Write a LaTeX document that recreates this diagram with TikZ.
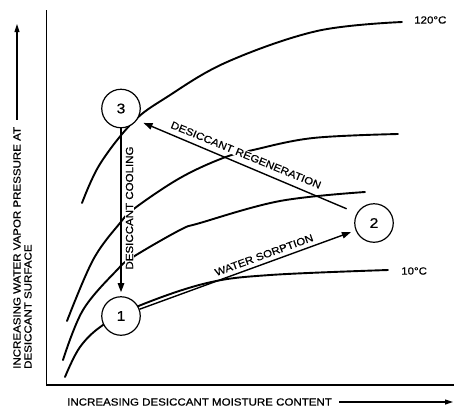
\documentclass[tikz,border=0pt]{standalone}
\usepackage{fontspec}
\setmainfont{Liberation Sans}[FakeStretch=1.12, FakeBold=0.6]
\usetikzlibrary{arrows.meta}
\begin{document}
\begin{tikzpicture}[x=1pt,y=-1pt,
  curve/.style={line width=1.9pt, line cap=round},
  axisline/.style={line width=1.2pt},
  arr/.style={line width=1.4pt, -{Triangle[length=9pt,width=6.5pt]}},
  axarr/.style={line width=1.1pt, -{Triangle[length=8pt,width=5pt]}},
  state/.style={circle, draw, line width=1.2pt, fill=white, minimum size=38.5pt, inner sep=0pt, font=\fontsize{14}{14}\selectfont},
  lab/.style={font=\fontsize{10.3}{12}\selectfont, inner sep=1pt},
]
\useasboundingbox (0,0) rectangle (454,408);
\fill[white] (0,0) rectangle (454,408);

% axes
\draw[axisline] (46.5,10) -- (46.5,385) -- (454,385);

% isotherms
\draw[curve] plot[smooth, tension=0.6] coordinates {(82,203) (100,164) (133,122) (167,97) (227,62) (317,31) (402,22)};
\draw[curve] plot[smooth, tension=0.6] coordinates {(67,321) (93,260) (120,223) (135,208) (180,178) (223,158) (253,150) (313,138) (398,134)};
\draw[curve] plot[smooth, tension=0.6] coordinates {(63,360) (83,310) (117,270) (133,257) (180,230) (200,223) (280,201) (365,192)};
\draw[curve] plot[smooth, tension=0.6] coordinates {(65,377) (80,347) (103,325) (141,305) (207,283) (270,275) (388,270)};

% states
\node[state] (n3) at (121,108.5) {3};
\node[state] (n1) at (121,316) {1};
\node[state] (n2) at (374,223) {2};

% labels
\node[lab, rotate=90, fill=white] (cool) at (129.5,208) {DESICCANT COOLING};
\node[lab, rotate=-22.3, fill=white] (regen) at (246,155) {DESICCANT REGENERATION};
\node[lab, rotate=20] (sorp) at (264,255) {WATER SORPTION};
\node[lab, anchor=west] (t120) at (413,20) {120°C};
\node[lab, anchor=west] (t10) at (400,271) {10°C};

% process arrows
\draw[arr, shorten >=4pt] (n3.south) -- (n1.north);
\draw[arr, shorten <=11pt, shorten >=7pt] (n2.150) -- (n3.-36);
\draw[arr, shorten >=5pt] (n1) -- (n2.202);

% axis labels
\node[lab, anchor=west] (xl) at (66,402) {INCREASING DESICCANT MOISTURE CONTENT};
\coordinate (xend) at (453,402);
\draw[axarr, shorten <=6pt] (xl.east) -- (xend);

\node[lab, rotate=90, anchor=west] (yl1) at (17,370) {INCREASING WATER VAPOR PRESSURE AT};
\node[lab, rotate=90, anchor=west] (yl2) at (28,370) {DESICCANT SURFACE};
\coordinate (ytop) at (17,24);
\draw[axarr, shorten <=6pt] (yl1.east) -- (ytop);
\end{tikzpicture}
\end{document}
